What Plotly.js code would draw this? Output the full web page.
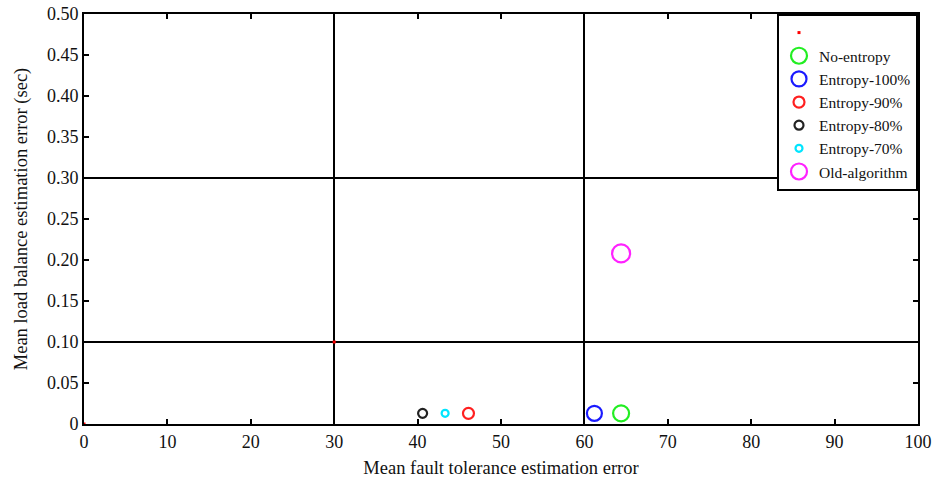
<!DOCTYPE html>
<html><head><meta charset="utf-8">
<script src="https://cdn.plot.ly/plotly-3.0.1.min.js"></script>
<style>html,body{margin:0;padding:0;background:#fff}#chart{width:935px;height:479px}</style>
</head><body><div id="chart"></div>
<script>
const seriesNames = ["No-entropy","Entropy-100%","Entropy-90%","Entropy-80%","Entropy-70%","Old-algorithm"];
const faultErr = [64.4, 61.2, 46.1, 40.6, 43.3, 64.4];
const loadErr = [0.013, 0.013, 0.013, 0.013, 0.013, 0.208];
const colors = ["#22ee22","#1a1aff","#ff2020","#222222","#00e5ff","#ff22ff"];
const sizes = [16, 15, 11, 9, 7, 18];
const refX = [0, 30, 100];
const refY = [0, 0.1, 0.5];
const xTicks = [0,10,20,30,40,50,60,70,80,90,100];
const yTicks = [0,0.05,0.1,0.15,0.2,0.25,0.3,0.35,0.4,0.45,0.5];
const yTickText = ["0","0.05","0.10","0.15","0.20","0.25","0.30","0.35","0.40","0.45","0.50"];
const xGrid = [30, 60];
const yGrid = [0.1, 0.3];

const fam = "Liberation Serif";
const font = {family: fam, color: "#111", size: 18};
const traces = [{
  x: refX, y: refY, mode: "markers", name: " ",
  marker: {color: "#ff0000", size: 3, symbol: "square"}, cliponaxis: false
}];
for (let i = 0; i < seriesNames.length; i++) {
  traces.push({
    x: [faultErr[i]], y: [loadErr[i]], mode: "markers", name: seriesNames[i],
    marker: {symbol: "circle-open", size: sizes[i], color: colors[i], line: {width: 2.2, color: colors[i]}}
  });
}
const layout = {
  width: 935, height: 479,
  margin: {l: 84, r: 17, t: 14, b: 55},
  paper_bgcolor: "#fff", plot_bgcolor: "#fff",
  font: font,
  showlegend: true,
  legend: {x: 1, xanchor: "right", y: 1, yanchor: "top", bgcolor: "#fff",
    bordercolor: "#000", borderwidth: 2, font: {family: fam, size: 15.5, color: "#111"},
    itemwidth: 30, tracegroupgap: 0},
  xaxis: {range: [0, 100], tickvals: xTicks, ticks: "inside", ticklen: 5, tickwidth: 2, tickcolor: "#000",
    showline: true, linecolor: "#000", linewidth: 2, mirror: "allticks", showgrid: false, zeroline: false,
    automargin: false,
    title: {text: "Mean fault tolerance estimation error", font: {family: fam, size: 18.5, color: "#111"}, standoff: 10},
    tickfont: {family: fam, size: 18, color: "#111"}},
  yaxis: {range: [0, 0.5], tickvals: yTicks, ticktext: yTickText, ticks: "inside", ticklen: 5, tickwidth: 2, tickcolor: "#000",
    showline: true, linecolor: "#000", linewidth: 2, mirror: "allticks", showgrid: false, zeroline: false,
    automargin: false,
    title: {text: "Mean load balance estimation error (sec)", font: {family: fam, size: 18.5, color: "#111"}, standoff: 14},
    tickfont: {family: fam, size: 18, color: "#111"}},
  xaxis2: {overlaying: "x", range: [0, 100], tickvals: xGrid, showticklabels: false, ticks: "",
    showgrid: true, gridcolor: "#000", gridwidth: 2, zeroline: false, showline: false},
  yaxis2: {overlaying: "y", range: [0, 0.5], tickvals: yGrid, showticklabels: false, ticks: "",
    showgrid: true, gridcolor: "#000", gridwidth: 2, zeroline: false, showline: false}
};
traces.push({x: [null], y: [null], xaxis: "x2", yaxis: "y2", showlegend: false, hoverinfo: "skip"});
Plotly.newPlot("chart", traces, layout, {displayModeBar: false, staticPlot: true});
</script></body></html>
